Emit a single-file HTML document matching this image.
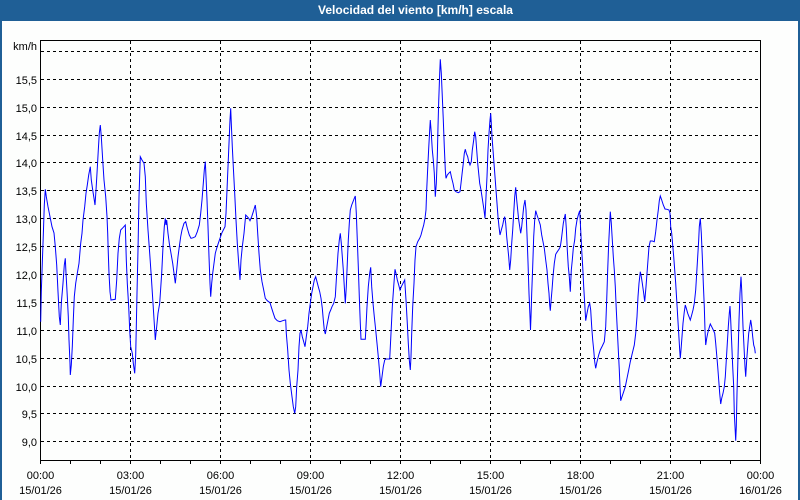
<!DOCTYPE html>
<html>
<head>
<meta charset="utf-8">
<style>
  html, body { margin: 0; padding: 0; background: #fdfefd; }
  svg { display: block; }
  text { font-family: "Liberation Sans", "DejaVu Sans", sans-serif; }
</style>
</head>
<body>
<svg width="800" height="500" viewBox="0 0 800 500" xmlns="http://www.w3.org/2000/svg">
  <rect x="0" y="0" width="800" height="500" fill="#fdfefd"/>
  <!-- title bar -->
  <rect x="0" y="0" width="800" height="21" fill="#1f5f96"/>
  <rect x="0" y="0" width="2" height="500" fill="#1f5f96"/>
  <rect x="798" y="0" width="2" height="500" fill="#1f5f96"/>
  <text x="318" y="14" font-size="12" font-weight="bold" fill="#ffffff" textLength="195" lengthAdjust="spacingAndGlyphs">Velocidad del viento [km/h] escala</text>

  <!-- horizontal grid -->
  <g stroke="#000" stroke-width="1" stroke-dasharray="3,3" shape-rendering="crispEdges">
    <line x1="41" y1="51.5" x2="760" y2="51.5"/>
    <line x1="41" y1="79.5" x2="760" y2="79.5"/>
    <line x1="41" y1="107.5" x2="760" y2="107.5"/>
    <line x1="41" y1="135.5" x2="760" y2="135.5"/>
    <line x1="41" y1="162.5" x2="760" y2="162.5"/>
    <line x1="41" y1="190.5" x2="760" y2="190.5"/>
    <line x1="41" y1="218.5" x2="760" y2="218.5"/>
    <line x1="41" y1="246.5" x2="760" y2="246.5"/>
    <line x1="41" y1="274.5" x2="760" y2="274.5"/>
    <line x1="41" y1="302.5" x2="760" y2="302.5"/>
    <line x1="41" y1="330.5" x2="760" y2="330.5"/>
    <line x1="41" y1="358.5" x2="760" y2="358.5"/>
    <line x1="41" y1="386.5" x2="760" y2="386.5"/>
    <line x1="41" y1="413.5" x2="760" y2="413.5"/>
    <line x1="41" y1="441.5" x2="760" y2="441.5"/>
  </g>
  <!-- vertical grid -->
  <g stroke="#000" stroke-width="1" stroke-dasharray="3,3" shape-rendering="crispEdges">
    <line x1="130.5" y1="41" x2="130.5" y2="460"/>
    <line x1="220.5" y1="41" x2="220.5" y2="460"/>
    <line x1="310.5" y1="41" x2="310.5" y2="460"/>
    <line x1="400.5" y1="41" x2="400.5" y2="460"/>
    <line x1="490.5" y1="41" x2="490.5" y2="460"/>
    <line x1="580.5" y1="41" x2="580.5" y2="460"/>
    <line x1="670.5" y1="41" x2="670.5" y2="460"/>
  </g>
  <!-- frame -->
  <rect x="40.5" y="40.5" width="720" height="420" fill="none" stroke="#000" stroke-width="1" shape-rendering="crispEdges"/>
  <!-- hourly ticks -->
  <g stroke="#000" stroke-width="1" shape-rendering="crispEdges">
    <line x1="40.5" y1="460" x2="40.5" y2="464"/>
    <line x1="70.5" y1="460" x2="70.5" y2="464"/>
    <line x1="100.5" y1="460" x2="100.5" y2="464"/>
    <line x1="130.5" y1="460" x2="130.5" y2="464"/>
    <line x1="160.5" y1="460" x2="160.5" y2="464"/>
    <line x1="190.5" y1="460" x2="190.5" y2="464"/>
    <line x1="220.5" y1="460" x2="220.5" y2="464"/>
    <line x1="250.5" y1="460" x2="250.5" y2="464"/>
    <line x1="280.5" y1="460" x2="280.5" y2="464"/>
    <line x1="310.5" y1="460" x2="310.5" y2="464"/>
    <line x1="340.5" y1="460" x2="340.5" y2="464"/>
    <line x1="370.5" y1="460" x2="370.5" y2="464"/>
    <line x1="400.5" y1="460" x2="400.5" y2="464"/>
    <line x1="430.5" y1="460" x2="430.5" y2="464"/>
    <line x1="460.5" y1="460" x2="460.5" y2="464"/>
    <line x1="490.5" y1="460" x2="490.5" y2="464"/>
    <line x1="520.5" y1="460" x2="520.5" y2="464"/>
    <line x1="550.5" y1="460" x2="550.5" y2="464"/>
    <line x1="580.5" y1="460" x2="580.5" y2="464"/>
    <line x1="610.5" y1="460" x2="610.5" y2="464"/>
    <line x1="640.5" y1="460" x2="640.5" y2="464"/>
    <line x1="670.5" y1="460" x2="670.5" y2="464"/>
    <line x1="700.5" y1="460" x2="700.5" y2="464"/>
    <line x1="730.5" y1="460" x2="730.5" y2="464"/>
    <line x1="760.5" y1="460" x2="760.5" y2="464"/>
  </g>

  <!-- y labels -->
  <g font-size="11" fill="#000" text-anchor="end">
    <text x="37" y="50">km/h</text>
    <text x="37" y="84">15,5</text>
    <text x="37" y="112">15,0</text>
    <text x="37" y="140">14,5</text>
    <text x="37" y="167">14,0</text>
    <text x="37" y="195">13,5</text>
    <text x="37" y="223">13,0</text>
    <text x="37" y="251">12,5</text>
    <text x="37" y="279">12,0</text>
    <text x="37" y="307">11,5</text>
    <text x="37" y="335">11,0</text>
    <text x="37" y="363">10,5</text>
    <text x="37" y="391">10,0</text>
    <text x="37" y="418">9,5</text>
    <text x="37" y="446">9,0</text>
  </g>
  <!-- x labels -->
  <g font-size="11" fill="#000" text-anchor="middle">
    <text x="40.5" y="479">00:00</text><text x="40.5" y="494">15/01/26</text>
    <text x="130.5" y="479">03:00</text><text x="130.5" y="494">15/01/26</text>
    <text x="220.5" y="479">06:00</text><text x="220.5" y="494">15/01/26</text>
    <text x="310.5" y="479">09:00</text><text x="310.5" y="494">15/01/26</text>
    <text x="400.5" y="479">12:00</text><text x="400.5" y="494">15/01/26</text>
    <text x="490.5" y="479">15:00</text><text x="490.5" y="494">15/01/26</text>
    <text x="580.5" y="479">18:00</text><text x="580.5" y="494">15/01/26</text>
    <text x="670.5" y="479">21:00</text><text x="670.5" y="494">15/01/26</text>
    <text x="760.5" y="479">00:00</text><text x="760.5" y="494">16/01/26</text>
  </g>

  <!-- data series -->
  <polyline fill="none" stroke="#0000ff" stroke-width="1" stroke-linejoin="miter" points="
40.7,321.7 41.3,291.7 42.3,263 43.3,235 44.3,205 45.3,189.3 46.3,196.7 48,206.7 50,216.7 52,226.7 54,233 55.3,246.7 56.7,265 58,291.7 59.3,316.7 60.3,325 61.3,303.3 63,283.3 64.3,265 65.3,258.3 66,273 67.3,296.7 68.3,316.7 69,340 70,363.3 70.3,375 71.3,365 72.3,346.7 73.3,320 74.3,296.7 75.7,283.3 77.3,273.3 79,263.3 80.7,243.3 82,233.3 83,220 84.7,206.7 86,193.3 87.3,185 88.7,175 90.3,166.7 91.3,180 92.7,190 94,198.3 95,205 96,190 97,173.3 98.3,150 99.3,133.3 100.3,125 101.3,136.7 102.7,160 104,180 105.7,196.7 107,216.7 107.7,233.3 108.3,253.3 109,273.3 110,291.7 111,300 115.3,299.3 116.7,280 118,253.3 119.3,238.3 120.7,230 123.3,227.3 125.3,225 126.3,260 127.3,283.3 128.7,306.7 129.7,330 130.7,346.7 132.3,353.3 133.3,363.3 134.7,373.3 135.7,355 136.3,326.7 137,293.3 138,250 139,196.7 140.3,156.7 142,160 144,163.3 145.3,176.7 146.3,203.3 148,230 149.7,253.3 151.3,276.7 153,303.3 154.7,330 155.3,340 156.7,326.7 158,313.3 159.7,303.3
161.7,273.3 163,246.7 164.3,226.7 165.3,218.3 166,225 166.7,220 168,233.3 169.3,243.3 171,253.3 172.7,263.3 174,273.3 175.3,283.3 176.7,270 178,256.7 179.3,246.7 180.7,236.7 182,230 184,223.3 185.7,221.7 187.3,228.3 189.3,235 191,238.3 193.3,237.7 195.3,236.7 197.3,231.7 199.3,225 200.7,213.3 202,200 203.3,183.3 204.3,170 205.3,161.7 206,176.7 207,200 208,226.7 209,256.7 210,283.3 210.7,296.7 211.7,283.3 212.7,273.3 214,263.3 215.3,253.3 216.7,248.3 218.3,243.3 220,238.3 221.7,233.3 223.3,230 225,226.7 226,213.3 227,190 228,166.7 229,143.3 230,120 230.7,108.3 231.3,123.3 232.3,146.7 233.3,166.7 234.7,193.3 236,220 237.3,243.3 238.7,263.3 240,280 241,260 242.3,246.7 244,233.3 245.7,215 247.3,216.7 248.7,218.3 250,220.7 251.7,216.7 253.3,211.7 255.3,205 256.7,216.7 257.7,233.3 259,253.3 260.3,270 262,281.7 263.7,290 265.3,298.3 267.3,300.7 270,302.7 271.7,308.3 273.3,313.3 275,318.3 277.3,320.7 280,321.7 282.7,320.7 285,320
285.7,320 286.3,333.3 287.7,350 289,370 290.3,383.3 292,396.7 293.3,406.7 294.7,413.3 295.7,406.7 296.7,386.7 298,370 299,346.7 300,333.3 301,330 302.3,336.7 303.7,341.7 305,346.7 306.3,336.7 307.7,326.7 309,313.3 310.3,303.3 311.7,293.3 313,286.7 314.3,280 315.7,276.7 317,281.7 318.3,286.7 319.7,291.7 321,298.3 322.3,308.3 323.3,320 324.3,330 325.3,334 326.7,326.7 328,320 329.3,313.3 330.7,310 332,306.7 333.7,303.3 335.3,296.7 336.7,273.3 338,253.3 339.3,240 340.3,233.3 341.3,243.3 342.3,256.7 343.3,270 344.3,286.7 345.3,303.3 346.3,286.7 347.3,263.3 348.3,240 349.3,223.3 350.3,210 351.7,205 353,201.7 354.3,198.3 355.3,196 356.3,213.3 357.3,240 358.3,266.7 359.3,296.7 360.3,323.3 361,339.3 365.3,339.3 366,326.7 367,306.7 368.3,286.7 369.7,273.3 370.7,267.3 371.7,286.7 373,303.3 374.3,316.7 375.7,330 377,343.3 378.3,356.7 379.7,373.3 380.7,386.7 382,376.7 383.3,366.7 384.7,360 386,359 389.7,359 391,333.3 392.3,306.7 393.7,286.7 395,269.3 396,273.3 397.3,280 398.7,285 400,290 401.3,286.7 403,283.3 404.7,280
406,300 407.3,323.3 408.3,343.3 409.3,360 410.3,370 411,356.7 411.7,333.3 412.7,306.7 414,283.3 415,260 416,246.7 417.7,241.7 419.7,238.3 421,235 422.3,230 423.7,225 425,218.3 426,210 426.7,190 427.7,168.3 428.7,148.3 429.7,130 430.3,120 431.3,133.3 432.3,150 433.3,160 434.3,173.3 435.3,196.7 436.3,183.3 437.3,156.7 438,126.7 438.7,101.7 439.7,73.3 440.3,59.3 441.3,73.3 442.3,96.7 443.3,120 444.3,146.7 445.3,170 446,178.3 447.3,175 448.7,173.3 450.3,171.7 451.7,178.3 453,183.3 454.3,190 456,191.7 458.3,192.7 460,191.7 461,183.3 462.3,171.7 463.3,163.3 464.3,153.3 465.3,149.3 466.3,153.3 467.7,156.7 468.7,161.7 470,165 471.3,161.7 472.3,150 473.7,140 474.7,131.7 475.7,136.7 476.7,150 477.7,163.3 478.7,173.3 479.7,183.3 481,190 482,196.7 483,203.3 484,210 485,218.3 486,196.7 487,176.7 488,150 489,133.3 490,120 490.7,113.3 491.3,123.3 492,136.7 493,150 494,163.3 495,176.7 496,190 497,203.3 498,216.7 499,226.7 500,235 501.3,230 502.7,225 503.7,220 504.7,216.7 505.7,223.3 506.7,236.7 507.7,246.7 508.7,256.7 509.7,270 510.7,260 511.7,243.3 512.7,230 513.7,213.3 514.7,196.7 515.7,187.3 516.7,200 517.7,210 518.7,220 519.7,226.7 520.7,233.3 521.7,226.7 522.7,216.7 523.7,206.7 525,200 526,210 527,235 528,262 529,293.3 530,316.7 530.5,330 531,316.7 531.7,293.3 532.7,266.7 533.7,236.7 534.7,220 535.7,210.7 537,215 538.7,220 540.3,225 541.7,235 543,241.7 544.3,248.3 545.7,260 547,270 548,283.3 549,293.3 549.7,305 550.3,310.7 551,301.7 552,290 553,276.7 554.3,263.3 555.7,254.3 557.3,251.7 559,249.3 560.3,246.7 561.3,240 562.3,231.7 563.3,223.3 564.3,218.3 565.3,214 566.3,228.3 567.3,250 568.3,266.7 569.3,276.7 570.3,291.7 571.3,270 572.3,260 573.3,248.3 574.7,240 575.7,228.3 577,220 578.3,215 579.7,210.7 580.7,230 581.7,250 582.7,266.7 583.7,286.7 584.7,303.3 585.7,320.7 587,313.3 588.3,306.7 589.7,303.3 590.7,310 591.7,326.7 592.7,340 593.7,350 594.7,361.7 595.7,368.3 597,361.7 598.7,355 600.3,350 602.3,346 604.3,341.7 605.7,326.7 606.7,300 607.7,270 608.7,243.3 609.7,223.3 610.3,211.7 611.3,223.3 612.3,240 613.3,256.7 614.3,270 615.3,286.7 616.3,310 617.3,330 618.3,350 619.3,370 620,386.7 620.7,400.7 622,396.7 623.7,391.7 625.3,386.7 627,378.3 628.7,370 630.3,361.7 632.3,353.3 634.3,345 635.7,333.3 637,316.7 638,296.7 639,283.3 640.3,271.7 641.3,276.7 642.3,283.3 643.7,293.3 644.7,301.7 646,286.7 647,273.3 648,260 649,246.7 650.3,241 652.3,241 654.3,241.7 655.7,231.7 657,220 658.3,210 659.3,200.7 660.3,196 661.7,200 663.3,205 665,209 667,209.3 669,210 670,213.3 670.7,226.7 671.7,233.3 672.7,245 673.7,256.7 674.7,270 675.7,283.3 676.7,300 677.7,316.7 678.7,333.3 679.7,350 680.3,358.3 681,350 682,336.7 683,323.3 684.3,311.7 685.3,305 686.3,308.3 687.7,313.3 689,316.7 690.3,320 691.7,315 693,310 694.3,303.3 695.7,290 696.7,273.3 697.7,256.7 698.7,240 699.3,226.7 700.3,218.3 701.3,233.3 702.3,256.7 703.3,283.3 704.3,306.7 705,330 705.7,345 706.7,338.3 707.7,333.3 709,328.3 710.3,324 711.7,326.7 713.3,330 714.7,333.3 715.7,343.3 716.7,355 717.7,366.7 718.7,380 719.7,393.3 720.7,404 721.7,398.3 723,393.3 724.3,386.7 725.3,376.7 726.3,360 727.3,343.3 728.3,326.7 729.3,313.3 730,306 730.7,320 731.7,343.3 732.7,366.7 733.7,386.7 734.3,413.3 735,426.7 735.7,440.7 736.3,426.7 737,393.3 738,356.7 739,320 740,293.3 741,276.7 741.7,290 742.3,306.7 743,326.7 744,346.7 745,366.7 745.7,376.7 746.7,360 747.7,346.7 748.7,333.3 749.7,326.7 750.7,320 751.7,326.7 752.7,336.7 753.7,345 754.7,348.3 755.3,353.3"/>
</svg>
</body>
</html>
